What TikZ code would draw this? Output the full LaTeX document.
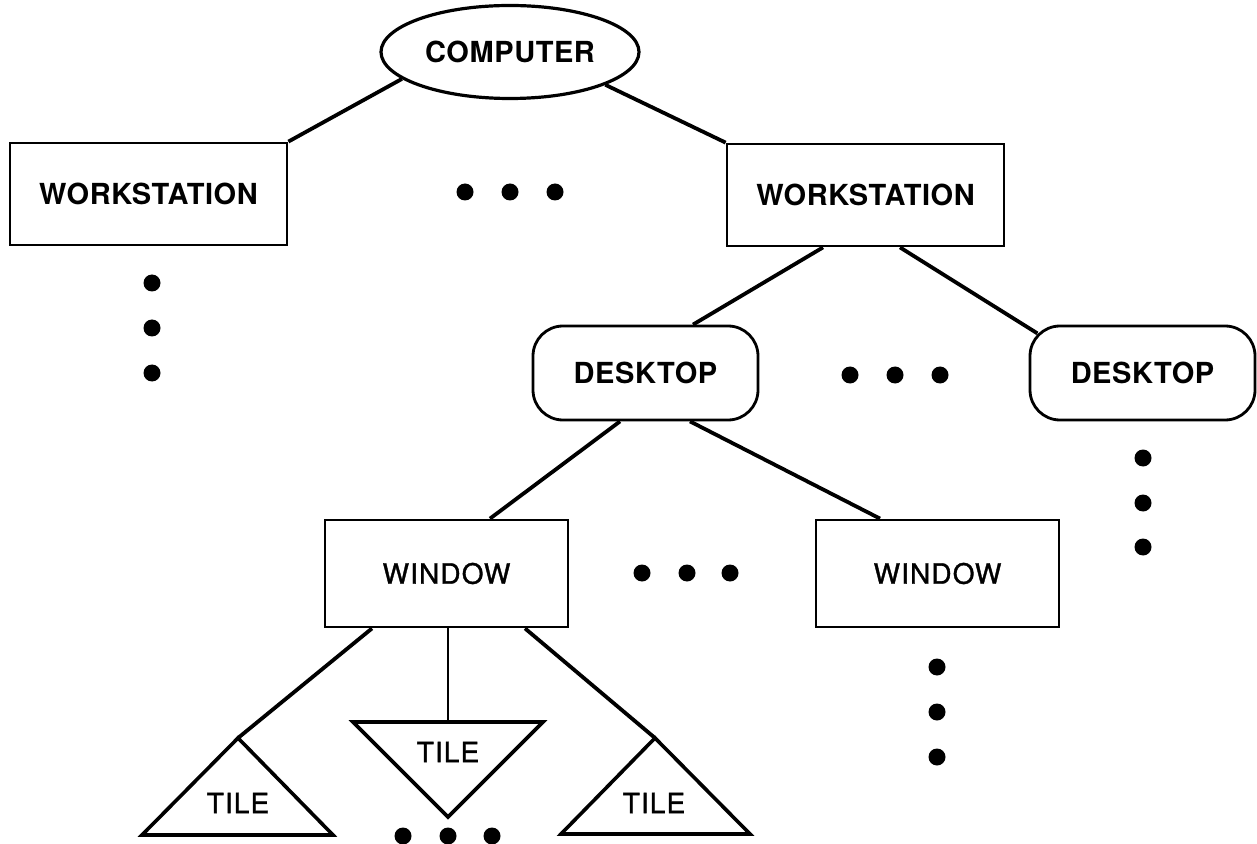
\documentclass[tikz,border=0pt]{standalone}
\usepackage{fontspec}
\setmainfont{TeX Gyre Heros}
\usetikzlibrary{shapes.geometric,calc}
\begin{document}
\begin{tikzpicture}[x=0.5pt,y=-0.5pt,
  boxlbl/.style={font=\fontsize{14.5}{16}\selectfont\bfseries\addfontfeature{LetterSpace=2}},
  winlbl/.style={font=\fontsize{14}{16}\selectfont\addfontfeature{LetterSpace=4,FakeBold=1.2}},
  boxnode/.style={draw,line width=1.4pt,rectangle,inner sep=0pt},
  wsbox/.style={boxnode,boxlbl,minimum width=138.5pt,minimum height=51pt},
  dtbox/.style={boxnode,boxlbl,rounded corners=15pt,minimum width=112.5pt,minimum height=47pt},
  winbox/.style={boxnode,winlbl,minimum width=121.5pt,minimum height=53.5pt},
  conn/.style={line width=1.9pt},
  thinconn/.style={line width=1.2pt},
  tri/.style={line width=1.8pt,line join=miter},
  tilelbl/.style={winlbl,inner sep=0pt}]
\useasboundingbox (0,0) rectangle (1257,844);
% nodes
\node[draw,ellipse,line width=1.6pt,boxlbl,minimum width=129pt,minimum height=46.5pt,inner sep=0pt] (comp) at (510,52) {COMPUTER};
\node[wsbox] (ws1) at (148.5,194) {WORKSTATION};
\node[wsbox] (ws2) at (865.5,195) {WORKSTATION};
\node[dtbox] (dt1) at (645.5,373) {DESKTOP};
\node[dtbox] (dt2) at (1142.5,373) {DESKTOP};
\node[winbox] (win1) at (446.5,573.5) {WINDOW};
\node[winbox] (win2) at (937.5,573.5) {WINDOW};
% tiles
\coordinate (t1apex) at (238,738);
\coordinate (t2top) at (448,722);
\coordinate (t3apex) at (655,738);
\draw[tri] (t1apex) -- (142,835) -- (333,835) -- cycle;
\draw[tri] (353,722) -- (543,722) -- (448,817) -- cycle;
\draw[tri] (t3apex) -- (561,834) -- (750,834) -- cycle;
\node[tilelbl] (tile1) at (238,803) {TILE};
\node[tilelbl] (tile2) at (448,752) {TILE};
\node[tilelbl] (tile3) at (654,803) {TILE};
% connectors
\draw[conn] (comp.194) -- (ws1.north east);
\draw[conn] (comp.-19) -- (ws2.north west);
\draw[conn] ($(ws2.south)+(-42.5,0)$) -- ($(dt1.north)+(47.5,0)$);
\draw[conn] ($(ws2.south)+(34.5,0)$) -- ($(dt2.north west)+(8.8,8.8)$);
\draw[conn] ($(dt1.south)+(-25.5,0)$) -- ($(win1.north)+(43.5,0)$);
\draw[conn] ($(dt1.south)+(44.5,0)$) -- ($(win2.north)+(-57.5,0)$);
\draw[conn] ($(win1.south)+(-74.5,0)$) -- (t1apex);
\draw[thinconn] (t2top |- win1.south) -- (t2top);
\draw[conn] ($(win1.south)+(78.5,0)$) -- (t3apex);
% ellipsis dots
\foreach \x/\y in {465/192,510/192,555/192,
                   152/283,152/328,152/373,
                   850/375,895/375,940/375,
                   1143/458,1143/503,1143/547,
                   642/573,687/573,730/573,
                   937/667,937/712,937/757,
                   403/836,448/836,492/836}
  \fill (\x,\y) circle [radius=4.25pt];
\end{tikzpicture}
\end{document}
